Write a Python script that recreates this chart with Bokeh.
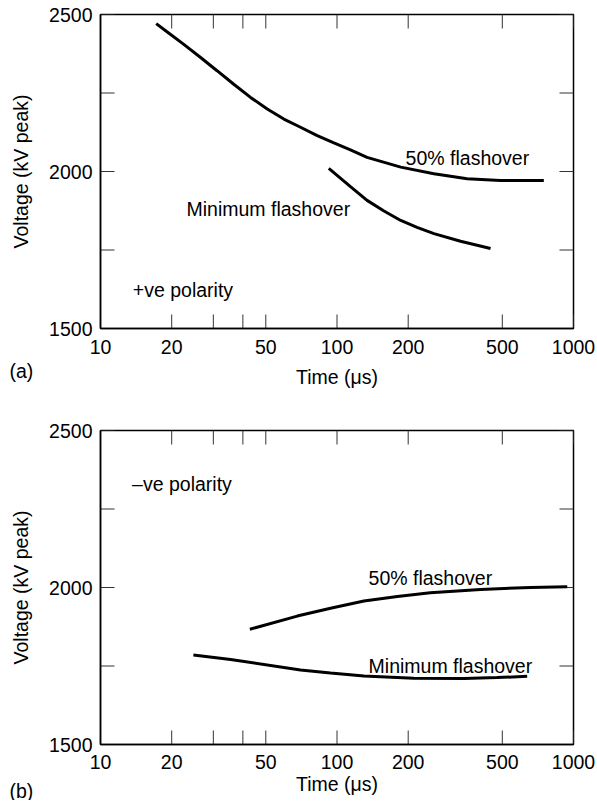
import math
from bokeh.plotting import figure
from bokeh.models import FixedTicker, Range1d, PrintfTickFormatter, Title
from bokeh.layouts import column
from bokeh.embed import file_html
from bokeh.resources import INLINE
from bokeh.core.properties import value

FONT = "Liberation Sans"
FS = "19.5px"

# ---- axes / ticks ----
x_ticks = [10, 20, 50, 100, 200, 500, 1000]
x_minor = [30, 40]
y_ticks = [1500, 2000, 2500]
y_minor = [1750, 2250]
x_min, x_max = 10, 1000
y_min, y_max = 1500, 2500

# ---- (a) +ve polarity ----
a_fifty_t = [17.2, 19.1, 22.5, 26.5, 31.1, 36.6, 43.1, 50.7, 59.6, 70.1, 82.5,
             97, 114, 134, 186, 257, 355, 491, 749]
a_fifty_v = [2471, 2445, 2405, 2363, 2321, 2278, 2236, 2199, 2167, 2141, 2114,
             2091, 2069, 2045, 2014, 1993, 1977, 1971, 1971]
a_min_t = [92.3, 114, 134, 158, 186, 218, 257, 333, 446]
a_min_v = [2010, 1952, 1908, 1874, 1844, 1822, 1802, 1778, 1755]

a_text = ["50% flashover", "Minimum flashover", "+ve polarity"]
a_text_t = [195, 23.1, 13.7]
a_text_v = [2044, 1879, 1622]

# ---- (b) -ve polarity ----
b_fifty_t = [42.8, 67.9, 93.9, 130, 180, 248, 404, 658, 941]
b_fifty_v = [1867, 1909, 1934, 1957, 1971, 1983, 1994, 2000, 2002]
b_min_t = [24.7, 35.5, 70.1, 93.9, 130, 211, 344, 475, 637]
b_min_v = [1785, 1771, 1737, 1728, 1718, 1711, 1710, 1713, 1717]

b_text = ["50% flashover", "Minimum flashover", "\u2013ve polarity"]
b_text_t = [136, 136, 13.6]
b_text_v = [2029, 1750, 2329]

TICK_LEN = 14
TICK_COLOR = "#333333"


def make_panel(tag, height, top, bottom, lab_off, title_off, tag_standoff,
               curves, texts):
    p = figure(width=597, height=height, x_axis_type="log",
               x_range=Range1d(x_min, x_max), y_range=Range1d(y_min, y_max),
               output_backend="svg", toolbar_location=None,
               min_border_left=100, min_border_right=24,
               min_border_top=top, min_border_bottom=bottom)
    p.grid.visible = False
    p.outline_line_color = "black"
    p.outline_line_width = 1.5
    p.background_fill_color = "white"
    p.border_fill_color = "white"

    for ax, ticks in ((p.xaxis[0], x_ticks), (p.yaxis[0], y_ticks)):
        ax.ticker = FixedTicker(ticks=ticks, minor_ticks=[])
        ax.formatter = PrintfTickFormatter(format="%d")
        ax.major_tick_in = 0
        ax.major_tick_out = 0
        ax.minor_tick_in = 0
        ax.minor_tick_out = 0
        ax.axis_line_color = "black"
        ax.axis_line_width = 1.5
        ax.major_label_text_font = FONT
        ax.major_label_text_font_size = FS
        ax.major_label_text_color = "black"
        ax.axis_label_text_font = FONT
        ax.axis_label_text_font_size = FS
        ax.axis_label_text_font_style = "normal"
        ax.axis_label_text_color = "black"
    xa = p.xaxis[0]
    ya = p.yaxis[0]
    xa.axis_label = "Time (\u03bcs)"
    ya.axis_label = "Voltage (kV peak)"
    xa.major_label_standoff = lab_off
    xa.axis_label_standoff = title_off
    ya.major_label_standoff = 8
    ya.axis_label_standoff = 14

    # inward tick marks on all four sides
    xt = x_ticks + x_minor
    yt = y_ticks + y_minor
    p.ray(x=xt, y=[y_min] * len(xt), length=TICK_LEN, length_units="screen",
          angle=math.pi / 2, line_color=TICK_COLOR, line_width=1)
    p.ray(x=xt, y=[y_max] * len(xt), length=TICK_LEN, length_units="screen",
          angle=-math.pi / 2, line_color=TICK_COLOR, line_width=1)
    p.ray(x=[x_min] * len(yt), y=yt, length=TICK_LEN, length_units="screen",
          angle=0, line_color=TICK_COLOR, line_width=1)
    p.ray(x=[x_max] * len(yt), y=yt, length=TICK_LEN, length_units="screen",
          angle=math.pi, line_color=TICK_COLOR, line_width=1)

    for t, v in curves:
        p.line(t, v, line_color="black", line_width=3)

    labels, tt, vv = texts
    p.text(x=tt, y=vv, text=labels, text_font=value(FONT),
           text_font_size=FS, text_color="black",
           text_align="left", text_baseline="alphabetic")

    # panel tag "(a)"/"(b)" at the lower-left corner, outside the frame
    p.add_layout(Title(text=tag, align="left", vertical_align="top",
                       offset=-91, standoff=tag_standoff,
                       text_font=FONT, text_font_size=FS,
                       text_font_style="normal", text_color="black"),
                 "below")
    return p


pa = make_panel("(a)", 400, 14, 72, 11, 9, -62,
                [(a_fifty_t, a_fifty_v), (a_min_t, a_min_v)],
                (a_text, a_text_t, a_text_v))
pb = make_panel("(b)", 400, 30, 56, 10, 1, -36,
                [(b_fifty_t, b_fifty_v), (b_min_t, b_min_v)],
                (b_text, b_text_t, b_text_v))

layout = column(pa, pb)
open("out.html", "w").write(file_html(layout, INLINE))
